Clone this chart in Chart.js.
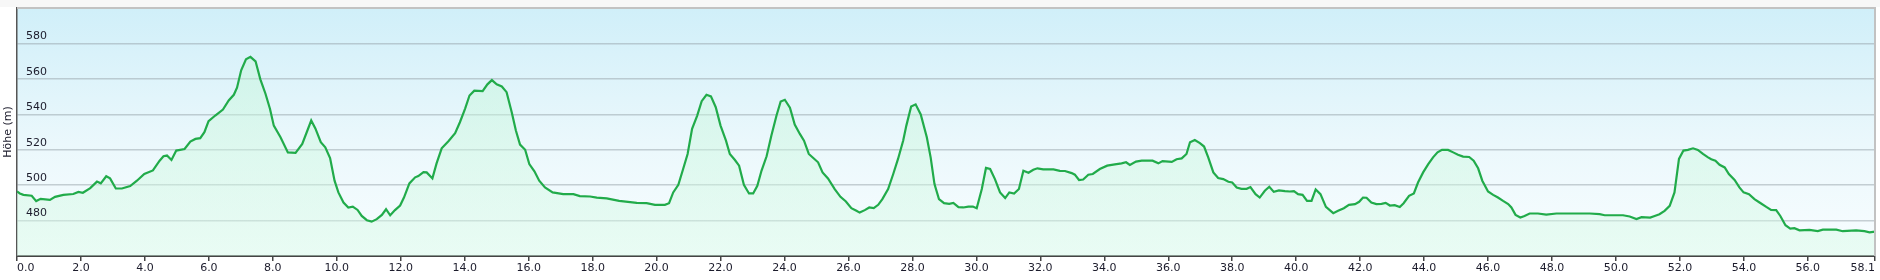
<!DOCTYPE html>
<html lang="de">
<head>
  <meta charset="UTF-8">
  <title>Höhenprofil</title>
  <style>
    body {
      margin: 0;
      padding: 0;
      background: #fff;
    }
    #profile {
      display: block;
    }
  </style>
</head>
<body>
  <canvas id="profile" width="1880" height="280"></canvas>

  <script src="https://cdn.jsdelivr.net/npm/chart.js"></script>
  <script>
    // distance along the route (km)
    const distKm = [
      0.00, 0.09, 0.20, 0.46, 0.60, 0.74, 1.03, 1.19, 1.45, 1.76, 1.92, 2.06, 2.29, 2.50, 2.62, 2.79, 2.91, 3.09, 3.28, 3.54,
      3.75, 3.98, 4.25, 4.46, 4.58, 4.69, 4.83, 4.98, 5.24, 5.42, 5.58, 5.73, 5.86, 5.99, 6.20, 6.44, 6.62, 6.78, 6.88, 7.01,
      7.16, 7.30, 7.46, 7.61, 7.77, 7.91, 8.03, 8.24, 8.47, 8.71, 8.92, 9.20, 9.33, 9.50, 9.64, 9.79, 9.93, 10.05, 10.21, 10.36,
      10.50, 10.65, 10.78, 10.94, 11.09, 11.25, 11.41, 11.54, 11.67, 11.82, 11.98, 12.10, 12.27, 12.45, 12.55, 12.71, 12.81, 12.99, 13.12, 13.28,
      13.49, 13.70, 13.85, 14.01, 14.15, 14.30, 14.56, 14.71, 14.85, 15.00, 15.16, 15.31, 15.47, 15.60, 15.73, 15.89, 16.02, 16.18, 16.33, 16.51,
      16.75, 17.08, 17.40, 17.60, 17.92, 18.13, 18.44, 18.83, 19.38, 19.69, 19.95, 20.26, 20.39, 20.52, 20.68, 20.83, 20.97, 21.11, 21.27, 21.41,
      21.56, 21.70, 21.85, 22.00, 22.17, 22.29, 22.45, 22.58, 22.73, 22.89, 23.02, 23.15, 23.28, 23.44, 23.59, 23.75, 23.88, 24.01, 24.17, 24.32,
      24.48, 24.61, 24.76, 24.90, 25.05, 25.19, 25.36, 25.57, 25.75, 25.92, 26.09, 26.25, 26.35, 26.51, 26.65, 26.79, 26.93, 27.06, 27.24, 27.40,
      27.55, 27.71, 27.81, 27.96, 28.10, 28.26, 28.45, 28.57, 28.69, 28.83, 28.99, 29.15, 29.28, 29.44, 29.59, 29.75, 29.89, 30.01, 30.17, 30.30,
      30.43, 30.58, 30.74, 30.90, 31.03, 31.18, 31.33, 31.47, 31.63, 31.78, 31.91, 32.09, 32.41, 32.61, 32.77, 32.98, 33.08, 33.21, 33.34, 33.50,
      33.64, 33.86, 34.09, 34.33, 34.54, 34.68, 34.80, 34.99, 35.17, 35.51, 35.69, 35.82, 36.11, 36.26, 36.42, 36.57, 36.68, 36.83, 36.99, 37.12,
      37.25, 37.41, 37.56, 37.72, 37.88, 38.00, 38.14, 38.29, 38.45, 38.57, 38.73, 38.86, 39.02, 39.16, 39.30, 39.46, 39.65, 39.80, 39.93, 40.06,
      40.20, 40.34, 40.48, 40.61, 40.76, 40.93, 41.16, 41.31, 41.49, 41.65, 41.84, 41.97, 42.09, 42.20, 42.35, 42.51, 42.67, 42.80, 42.93, 43.08,
      43.24, 43.36, 43.53, 43.68, 43.81, 43.97, 44.13, 44.28, 44.42, 44.56, 44.75, 44.91, 45.06, 45.22, 45.41, 45.55, 45.69, 45.82, 46.00, 46.16,
      46.31, 46.47, 46.63, 46.73, 46.86, 47.01, 47.14, 47.30, 47.56, 47.82, 48.14, 48.66, 49.18, 49.49, 49.65, 50.22, 50.43, 50.64, 50.80, 51.07,
      51.21, 51.36, 51.52, 51.68, 51.83, 51.97, 52.11, 52.25, 52.41, 52.56, 52.72, 52.88, 52.98, 53.11, 53.24, 53.40, 53.53, 53.71, 53.86, 53.99,
      54.16, 54.33, 54.49, 54.70, 54.85, 55.01, 55.14, 55.30, 55.45, 55.58, 55.74, 56.05, 56.31, 56.47, 56.89, 57.09, 57.51, 57.77, 57.93, 58.10
    ];

    // elevation (m)
    const elevM = [
      496.4, 495.3, 494.5, 494.0, 491.0, 492.3, 491.7, 493.4, 494.5, 495.0, 496.2, 495.7, 498.3, 502.0, 501.0, 505.0, 503.8, 498.1, 498.1, 499.5,
      502.5, 506.3, 508.3, 513.8, 516.3, 516.7, 514.2, 519.5, 520.4, 524.6, 526.1, 526.5, 529.9, 536.1, 539.3, 542.7, 547.8, 551.0, 555.0, 564.8,
      571.0, 572.4, 569.9, 559.7, 551.6, 543.1, 533.6, 527.0, 518.5, 518.2, 523.3, 536.5, 532.0, 524.2, 521.4, 515.3, 502.5, 495.9, 490.2, 487.4,
      487.9, 486.0, 482.6, 480.2, 479.4, 480.8, 483.2, 486.4, 483.0, 485.9, 488.5, 493.0, 501.0, 504.4, 505.1, 507.4, 507.2, 503.8, 512.3, 520.8,
      524.8, 529.3, 535.5, 543.1, 550.6, 553.3, 553.1, 556.9, 559.3, 556.9, 555.7, 552.5, 541.2, 530.8, 522.9, 520.0, 511.9, 507.8, 502.5, 498.7,
      495.9, 494.9, 494.9, 493.8, 493.6, 493.0, 492.5, 491.1, 490.0, 489.8, 488.9, 488.9, 489.8, 495.9, 500.2, 509.1, 517.6, 531.8, 539.3, 547.4,
      551.0, 550.1, 544.0, 533.6, 525.1, 517.6, 514.2, 511.0, 500.2, 495.3, 495.3, 499.6, 508.1, 516.3, 528.0, 539.3, 547.2, 548.2, 543.7, 534.2,
      528.9, 525.1, 517.6, 515.3, 512.9, 507.2, 503.8, 497.8, 493.4, 490.8, 487.0, 485.5, 484.5, 485.9, 487.4, 487.0, 488.9, 492.1, 497.8, 506.3,
      514.8, 525.1, 533.6, 544.4, 545.6, 539.9, 527.0, 515.7, 500.6, 492.1, 489.8, 489.4, 490.0, 487.6, 487.4, 487.9, 487.9, 487.0, 497.8, 509.7,
      509.1, 503.4, 495.9, 492.7, 495.9, 495.3, 497.8, 508.1, 507.0, 508.7, 509.5, 508.9, 508.9, 508.1, 508.0, 506.8, 505.9, 502.9, 503.2, 505.9,
      506.3, 509.1, 511.0, 511.7, 512.3, 512.9, 511.4, 513.3, 513.8, 513.8, 512.3, 513.6, 513.1, 514.6, 515.1, 517.6, 524.2, 525.5, 523.7, 521.8,
      515.7, 507.2, 504.0, 503.4, 501.9, 501.5, 498.7, 497.9, 497.9, 498.9, 494.9, 493.0, 496.8, 499.1, 496.2, 497.0, 496.6, 496.4, 496.6, 494.9,
      494.5, 491.1, 491.1, 497.6, 494.9, 487.7, 484.2, 485.5, 487.0, 488.9, 489.3, 490.6, 493.0, 492.9, 490.2, 489.3, 489.4, 490.0, 488.5, 488.7,
      487.7, 489.8, 494.0, 495.3, 501.5, 507.2, 511.9, 515.7, 518.5, 519.9, 519.9, 518.5, 517.2, 516.1, 515.9, 513.8, 509.5, 502.5, 496.4, 494.5,
      493.0, 491.1, 489.3, 487.4, 483.2, 481.7, 482.6, 484.0, 484.0, 483.4, 484.0, 484.0, 484.0, 483.6, 483.0, 483.0, 482.3, 480.9, 481.9, 481.7,
      482.6, 483.6, 485.5, 488.3, 495.9, 514.8, 519.5, 519.9, 520.8, 519.9, 517.6, 515.7, 514.6, 513.8, 511.5, 510.0, 506.3, 502.9, 498.7, 495.9,
      494.9, 492.1, 490.2, 487.7, 486.0, 485.9, 482.6, 477.4, 475.5, 475.7, 474.5, 474.7, 474.1, 474.9, 474.9, 474.0, 474.5, 474.0, 473.4, 473.8
    ];

    // axis ticks
    const xTicks = [0, 2, 4, 6, 8, 10, 12, 14, 16, 18, 20, 22, 24, 26, 28, 30, 32, 34, 36, 38, 40, 42, 44, 46, 48, 50, 52, 54, 56, 58.1];
    const yTicks = [480, 500, 520, 540, 560, 580];

    const points = distKm.map((d, i) => ({ x: d, y: elevM[i] }));

    // background, top strip and the top/right frame
    const framePlugin = {
      id: 'frame',
      beforeDraw(chart) {
        const { ctx, chartArea: a, width } = chart;
        ctx.save();
        ctx.fillStyle = '#f7f7f7';
        ctx.fillRect(0, 0, width, a.top - 1);
        const g = ctx.createLinearGradient(0, a.top, 0, a.bottom);
        g.addColorStop(0, '#d0eff9');
        g.addColorStop(0.55, '#ebf8fc');
        g.addColorStop(1, '#f8fdff');
        ctx.fillStyle = g;
        ctx.fillRect(a.left, a.top, a.right - a.left, a.bottom - a.top);
        ctx.restore();
      },
      afterDraw(chart) {
        const { ctx, chartArea: a } = chart;
        ctx.save();
        ctx.strokeStyle = '#c2c2c2';
        ctx.lineWidth = 2;
        ctx.beginPath();
        ctx.moveTo(a.left, a.top);
        ctx.lineTo(a.right, a.top);
        ctx.lineTo(a.right, a.bottom);
        ctx.stroke();
        ctx.restore();
      }
    };

    // fill under the line: greenish, fading lighter toward the bottom
    function areaFill(context) {
      const area = context.chart.chartArea;
      if (!area) return 'rgba(200, 246, 216, 0.4)';
      const g = context.chart.ctx.createLinearGradient(0, area.top, 0, area.bottom);
      g.addColorStop(0, 'rgba(190, 245, 212, 0.45)');
      g.addColorStop(1, 'rgba(215, 250, 230, 0.45)');
      return g;
    }

    const ctx = document.getElementById('profile').getContext('2d');
    const profileChart = new Chart(ctx, {
      type: 'line',
      data: {
        datasets: [{
          label: 'Höhe',
          data: points,
          borderColor: '#21ab4a',
          borderWidth: 2.2,
          backgroundColor: areaFill,
          fill: 'start',
          pointRadius: 0,
          tension: 0
        }]
      },
      options: {
        responsive: false,
        animation: false,
        devicePixelRatio: 1,
        layout: {
          padding: { top: 8, right: 5, left: 0, bottom: 0 }
        },
        plugins: {
          legend: { display: false },
          tooltip: { enabled: false }
        },
        scales: {
          x: {
            type: 'linear',
            min: 0,
            max: 58.1,
            afterBuildTicks: (scale) => {
              scale.ticks = xTicks.map(v => ({ value: v }));
            },
            afterFit: (scale) => {
              scale.height = 24;
              scale.paddingLeft = 0;
              scale.paddingRight = 0;
            },
            ticks: {
              autoSkip: false,
              maxRotation: 0,
              align: 'inner',
              padding: 1,
              color: '#1c1c2c',
              font: { family: 'DejaVu Sans', size: 11 },
              callback: (v) => Number(v).toFixed(1)
            },
            grid: {
              drawOnChartArea: false,
              drawTicks: true,
              tickLength: 5,
              color: '#444',
              lineWidth: 1.5
            },
            border: { color: '#444', width: 2 }
          },
          y: {
            min: 460,
            max: 600,
            afterBuildTicks: (scale) => {
              scale.ticks = yTicks.map(v => ({ value: v }));
            },
            afterFit: (scale) => {
              scale.width = 17;
              scale.paddingTop = 0;
              scale.paddingBottom = 0;
            },
            ticks: {
              z: 1,
              mirror: true,
              padding: 9,
              labelOffset: -7,
              color: '#1c1c2c',
              font: { family: 'DejaVu Sans', size: 11 }
            },
            grid: {
              drawTicks: false,
              color: 'rgba(150, 162, 168, 0.5)',
              lineWidth: 1.5
            },
            border: { color: '#555', width: 1.5 },
            title: {
              display: true,
              text: 'Höhe (m)',
              color: '#1c1c2c',
              padding: 1.5,
              font: { family: 'DejaVu Sans', size: 11 }
            }
          }
        }
      },
      plugins: [framePlugin]
    });
  </script>
</body>
</html>
